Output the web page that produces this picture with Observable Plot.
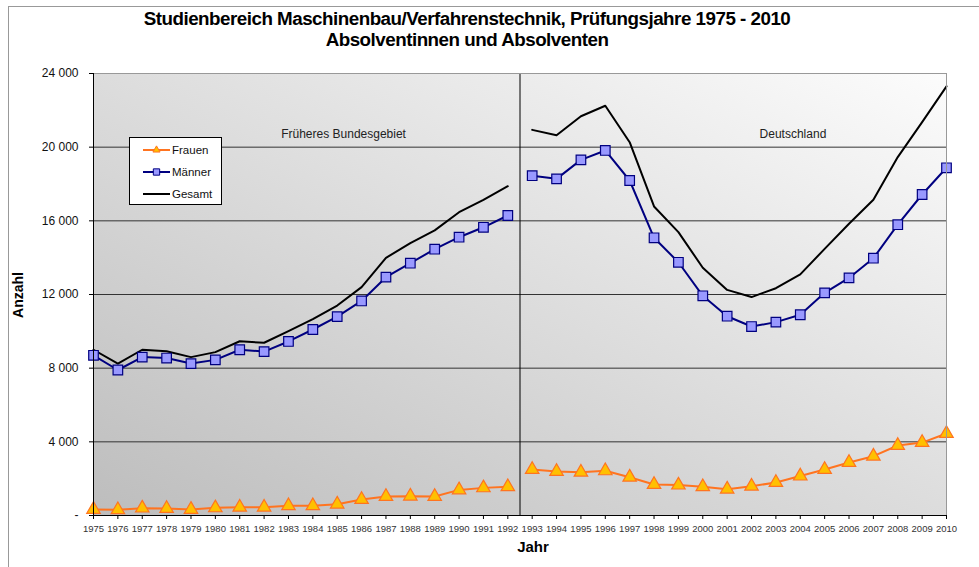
<!DOCTYPE html>
<html><head><meta charset="utf-8">
<script src="https://cdn.jsdelivr.net/npm/d3@7"></script>
<script src="https://cdn.jsdelivr.net/npm/@observablehq/plot@0.6"></script>
<style>
body{margin:0;background:#fff;font-family:"Liberation Sans",Arial,sans-serif;}
#wrap{position:relative;width:979px;height:567px;overflow:hidden;background:#fff;}
#frame{position:absolute;left:8px;top:6px;width:1000px;height:600px;border-left:1px solid #999;border-top:1px solid #999;}
#title{position:absolute;left:0;top:8px;width:934px;text-align:center;font-weight:bold;font-size:18.8px;line-height:21px;letter-spacing:-0.5px;color:#000;}
#chart{position:absolute;left:0;top:55px;}
#ylab{position:absolute;left:18px;top:295px;transform:translate(-50%,-50%) rotate(-90deg);font-weight:bold;font-size:14px;}
#xlab{position:absolute;left:533px;top:546px;transform:translate(-50%,-50%);font-weight:bold;font-size:15px;}
#legend{position:absolute;left:129px;top:137px;width:91px;height:66px;background:#fff;border:1px solid #000;}
#legend svg{position:absolute;left:0;top:0;}
</style></head>
<body>
<div id="wrap">
  <div id="frame"></div>
  <div id="title">Studienbereich Maschinenbau/Verfahrenstechnik, Prüfungsjahre 1975 - 2010<br>Absolventinnen und Absolventen</div>
  <div id="chart"></div>
  <div id="ylab">Anzahl</div>
  <div id="xlab">Jahr</div>
  <div id="legend"></div>
</div>
<script>
const years = [1975,1976,1977,1978,1979,1980,1981,1982,1983,1984,1985,1986,1987,1988,1989,1990,1991,1992,
               1993,1994,1995,1996,1997,1998,1999,2000,2001,2002,2003,2004,2005,2006,2007,2008,2009,2010];
const frauen = [330,310,400,380,330,415,450,450,525,525,615,870,1030,1050,1030,1390,1500,1560,
                2500,2390,2350,2425,2080,1680,1650,1560,1430,1590,1790,2140,2500,2880,3220,3800,3960,4450];
const maenner = [8700,7900,8600,8550,8250,8450,9000,8900,9450,10100,10800,11650,12940,13700,14460,15110,15650,16290,
                 18450,18280,19310,19820,18190,15080,13750,11930,10820,10260,10500,10900,12090,12900,13970,15790,17430,18880];
const gesamt = [9000,8250,9000,8920,8600,8870,9460,9380,10010,10660,11400,12400,13990,14790,15480,16470,17140,17880,
                20940,20650,21680,22250,20270,16780,15390,13450,12250,11860,12340,13090,14480,15840,17140,19460,21360,23300];
const yTicks = [0,4000,8000,12000,16000,20000,24000];
const gridValues = [4000,8000,12000,16000,20000];
const divider = [1992.5];
const regions = [{year:1985.26, value:20690, label:"Früheres Bundesgebiet"},{year:2003.7, value:20690, label:"Deutschland"}];

const rows = years.map((y,i)=>({year:y, part: y<=1992?"alt":"neu", frauen:frauen[i], maenner:maenner[i], gesamt:gesamt[i]}));
const fmtNum = d3.formatLocale({decimal:",", thousands:" ", grouping:[3], currency:["","€"]}).format(",");
const orange = "#ff7420";

const chart = Plot.plot({
  width: 979, height: 512,
  marginTop: 18, marginBottom: 52, marginLeft: 93, marginRight: 33,
  style: {fontFamily: '"Liberation Sans", Arial, sans-serif', background: "transparent"},
  x: {domain: [1975, 2010]},
  y: {domain: [0, 24000]},
  marks: [
    Plot.frame({fill: "url(#bg)"}),
    Plot.gridY(gridValues, {stroke: "#333", strokeOpacity: 1, strokeWidth: 1}),
    Plot.ruleX(divider, {stroke: "#000", strokeWidth: 1}),
    Plot.text(regions, {x: "year", y: "value", text: "label", fontSize: 12, fill: "#222"}),
    Plot.line(rows, {x: "year", y: "gesamt", z: "part", stroke: "#000", strokeWidth: 2}),
    Plot.line(rows, {x: "year", y: "maenner", z: "part", stroke: "#000080", strokeWidth: 2}),
    Plot.dot(rows, {x: "year", y: "maenner", symbol: "square", r: 5.4, fill: "#9999ff", stroke: "#000080", strokeWidth: 1.2}),
    Plot.line(rows, {x: "year", y: "frauen", z: "part", stroke: orange, strokeWidth: 2}),
    Plot.dot(rows, {x: "year", y: "frauen", symbol: "triangle", r: 5, fill: "#ffc000", stroke: orange, strokeWidth: 1.2}),
    Plot.frame({stroke: "#999", fill: "none"}),
    Plot.ruleY([0], {stroke: "#000"}),
    Plot.ruleX([1975], {stroke: "#000"}),
    Plot.axisX({ticks: years, tickFormat: d => String(d), tickSize: 4, tickPadding: 6, fontSize: 9.5, fill: "#333", label: null}),
    Plot.axisY({ticks: yTicks, tickFormat: d => d === 0 ? "-" : fmtNum(d), tickSize: 4, tickPadding: 11, fontSize: 12, fill: "#111", label: null})
  ]
});
const ns = "http://www.w3.org/2000/svg";
const defs = document.createElementNS(ns, "defs");
defs.innerHTML = '<linearGradient id="bg" x1="0" y1="1" x2="1" y2="0"><stop offset="0" stop-color="#bdbdbd"/><stop offset="1" stop-color="#fcfcfc"/></linearGradient>';
chart.insertBefore(defs, chart.firstChild);
const fr = chart.querySelector('[aria-label="frame"]');
if (fr) { (fr.tagName === "rect" ? fr : fr.querySelector("rect") || fr).setAttribute("fill", "url(#bg)"); }
document.getElementById("chart").appendChild(chart);

// legend
const legendItems = [
  {label: "Frauen", stroke: orange, symbol: d3.symbolTriangle, fill: "#ffc000", size: 22},
  {label: "Männer", stroke: "#000080", symbol: d3.symbolSquare, fill: "#9999ff", size: 40},
  {label: "Gesamt", stroke: "#000", symbol: null}
];
const lg = d3.select("#legend").append("svg").attr("width", 91).attr("height", 66);
legendItems.forEach((it, i) => {
  const yy = [12, 34, 56][i];
  lg.append("line").attr("x1", 13).attr("x2", 40).attr("y1", yy).attr("y2", yy).attr("stroke", it.stroke).attr("stroke-width", 2);
  if (it.symbol) lg.append("path").attr("d", d3.symbol(it.symbol, it.size)()).attr("transform", `translate(26.5,${yy})`).attr("fill", it.fill).attr("stroke", it.stroke);
  lg.append("text").attr("x", 42).attr("y", yy).attr("dy", "0.35em").attr("font-size", 11.5).attr("fill", "#111").text(it.label);
});
</script>
</body></html>
